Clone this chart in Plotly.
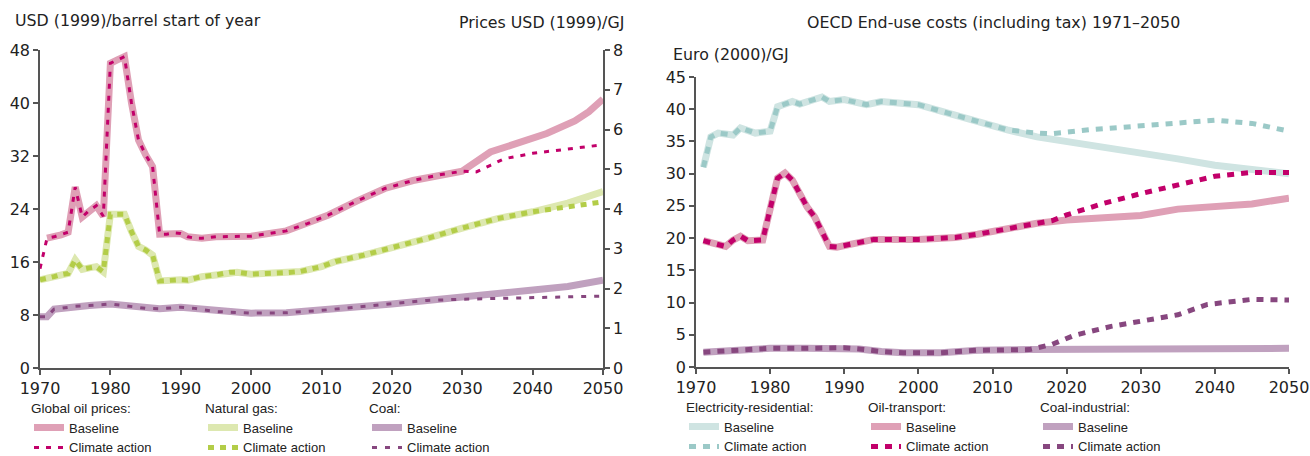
import plotly.graph_objects as go

# ---- left chart: world energy prices ----
oil_years = [1971, 1972, 1973, 1974, 1975, 1976, 1977, 1978, 1979, 1980, 1981, 1982, 1983, 1984, 1985, 1986,
             1987, 1988, 1989, 1990, 1991, 1992, 1993, 1995, 2000, 2005, 2008, 2011, 2015, 2019, 2023, 2027,
             2030, 2034, 2038, 2042, 2046, 2048, 2050]
oil_base = [19.6, 19.8, 20.1, 20.5, 27.3, 22.8, 23.8, 24.5, 22.9, 46.0, 46.5, 47.0, 40.0, 34.4, 32.2, 30.4,
            20.2, 20.2, 20.4, 20.3, 19.8, 19.6, 19.6, 19.8, 19.9, 20.7, 21.8, 23.1, 25.2, 27.1, 28.3, 29.2,
            29.7, 32.6, 34.0, 35.4, 37.3, 38.7, 40.6]
oil_clim_years = [1970] + oil_years[:33] + [2032, 2034, 2036, 2040, 2045, 2050]
oil_clim = [15.0] + oil_base[:33] + [29.6, 30.6, 31.6, 32.4, 33.0, 33.7]

gas_years = [1970, 1971, 1972, 1973, 1974, 1975, 1976, 1977, 1978, 1979, 1980, 1981, 1982, 1983, 1984, 1985,
             1986, 1987, 1988, 1990, 1991, 1993, 1995, 1997, 1998, 2000, 2005, 2007, 2010, 2012, 2016, 2020,
             2025, 2030, 2035, 2040, 2045, 2050]
gas_base = [2.22, 2.25, 2.30, 2.35, 2.38, 2.72, 2.48, 2.52, 2.55, 2.42, 3.87, 3.87, 3.87, 3.43, 3.06, 2.97,
            2.84, 2.19, 2.21, 2.22, 2.21, 2.30, 2.34, 2.41, 2.41, 2.36, 2.40, 2.43, 2.55, 2.68, 2.84, 3.02,
            3.26, 3.52, 3.76, 3.93, 4.15, 4.44]
gas_clim = gas_base[:-2] + [4.06, 4.18]

coal_years = [1970, 1971, 1972, 1975, 1977, 1980, 1982, 1985, 1987, 1990, 1992, 1995, 2000, 2005, 2010, 2015,
              2020, 2025, 2030, 2035, 2040, 2045, 2050]
coal_base = [1.29, 1.29, 1.48, 1.55, 1.57, 1.61, 1.57, 1.50, 1.49, 1.53, 1.50, 1.42, 1.38, 1.39, 1.45, 1.53,
             1.61, 1.70, 1.78, 1.86, 1.95, 2.05, 2.21]
coal_clim = coal_base[:-5] + [1.73, 1.75, 1.77, 1.79, 1.81]

# ---- right chart: OECD end-use costs ----
elec_years = [1971, 1972, 1973, 1975, 1976, 1978, 1980, 1981, 1983, 1984, 1987, 1988, 1990, 1993, 1995, 2000,
              2004, 2008, 2012, 2016, 2020, 2025, 2030, 2035, 2040, 2045, 2050]
elec_base = [31.0, 35.7, 36.3, 36.0, 37.1, 36.3, 36.6, 40.4, 41.2, 40.8, 41.9, 41.2, 41.5, 40.7, 41.2, 40.7,
             39.4, 38.0, 36.8, 35.7, 35.0, 34.2, 33.1, 32.3, 31.3, 30.6, 30.0]
elec_clim_years = elec_years[:19] + [2016, 2018, 2023, 2030, 2036, 2040, 2045, 2050]
elec_clim = elec_base[:19] + [36.3, 36.2, 36.8, 37.4, 38.1, 38.3, 37.8, 36.6]

oilt_years = [1971, 1974, 1975, 1976, 1977, 1979, 1981, 1982, 1983, 1984, 1985, 1986, 1988, 1989, 1992, 1994,
              2000, 2005, 2008, 2012, 2016, 2020, 2025, 2030, 2035, 2040, 2045, 2050]
oilt_base = [19.6, 18.7, 19.7, 20.3, 19.6, 19.7, 29.3, 30.1, 29.0, 26.7, 24.8, 23.3, 18.7, 18.6, 19.4, 19.8,
             19.8, 20.1, 20.6, 21.5, 22.3, 22.8, 23.2, 23.5, 24.5, 25.0, 25.3, 26.2]
oilt_clim_years = oilt_years[:21] + [2018, 2020, 2025, 2030, 2035, 2040, 2045, 2050]
oilt_clim = oilt_base[:21] + [22.7, 23.6, 25.4, 26.9, 28.2, 29.6, 30.2, 30.2]

coali_years = [1971, 1975, 1980, 1985, 1990, 1992, 1995, 1998, 2003, 2008, 2015, 2020, 2030, 2040, 2050]
coali_base = [2.3, 2.6, 2.9, 2.9, 3.0, 2.8, 2.4, 2.2, 2.2, 2.6, 2.7, 2.7, 2.7, 2.8, 2.9]
coali_clim_years = coali_years[:11] + [2018, 2021, 2026, 2030, 2035, 2039, 2042, 2045, 2050]
coali_clim = coali_base[:11] + [3.5, 4.9, 6.3, 7.1, 8.1, 9.7, 10.1, 10.5, 10.4]

W, H = 1310, 456
TXT = "#222222"
AX = "#555555"
BASE_W = 7

fig = go.Figure()


def pair(xb, yb, xc, yc, cb, cc, xa, ya, leg, cw, dash):
    fig.add_trace(go.Scatter(x=xb, y=yb, mode="lines", name="Baseline", xaxis=xa, yaxis=ya, legend=leg,
                             line=dict(color=cb, width=BASE_W)))
    fig.add_trace(go.Scatter(x=xc, y=yc, mode="lines", name="Climate action", xaxis=xa, yaxis=ya, legend=leg,
                             line=dict(color=cc, width=cw, dash=dash)))


pair(oil_years, oil_base, oil_clim_years, oil_clim, "#dfa0b6", "#c2006a", "x", "y", "legend", 3, "5px,7px")
pair(gas_years, gas_base, gas_years, gas_clim, "#dde8b0", "#b3cd48", "x", "y2", "legend2", 5, "6px,6px")
pair(coal_years, coal_base, coal_years, coal_clim, "#c0a1bf", "#87477f", "x", "y2", "legend3", 3, "5px,8px")

pair(elec_years, elec_base, elec_clim_years, elec_clim, "#cfe4e2", "#9bc9c7", "x2", "y3", "legend4", 5, "7px,7px")
pair(oilt_years, oilt_base, oilt_clim_years, oilt_clim, "#dfa0b6", "#c2006a", "x2", "y3", "legend5", 5, "7px,7px")
pair(coali_years, coali_base, coali_clim_years, coali_clim, "#c0a1bf", "#87477f", "x2", "y3", "legend6", 5, "7px,7px")

tickfont = dict(family="DejaVu Sans", size=16, color=TXT)
axis_common = dict(showline=True, linecolor=AX, linewidth=1.5, showgrid=False, zeroline=False,
                   ticks="outside", ticklen=5, tickwidth=1.5, tickcolor=AX, tickfont=tickfont, fixedrange=True)

left_dom = [40 / W, 603 / W]
right_dom = [696 / W, 1289 / W]

fig.update_layout(
    width=W, height=H, margin=dict(l=0, r=0, t=0, b=0, autoexpand=False),
    paper_bgcolor="white", plot_bgcolor="white",
    xaxis=dict(domain=left_dom, range=[1970, 2050], dtick=10, anchor="y", **axis_common),
    yaxis=dict(domain=[1 - 368 / H, 1 - 50 / H], range=[0, 48], dtick=8, anchor="x", **axis_common),
    yaxis2=dict(range=[0, 8], dtick=1, overlaying="y", side="right", anchor="x", **axis_common),
    yaxis4=dict(range=[0, 8], dtick=1, overlaying="y", side="right", anchor="x", showline=False,
                showgrid=False, zeroline=False, ticks="inside", ticklen=5, tickwidth=1.5, tickcolor=AX,
                showticklabels=False),
    xaxis2=dict(domain=right_dom, range=[1970, 2050], dtick=10, anchor="y3", **axis_common),
    yaxis3=dict(domain=[1 - 367 / H, 1 - 77 / H], range=[0, 45], dtick=5, anchor="x2", **axis_common),
    hovermode=False,
)

ann_font = dict(family="DejaVu Sans", size=15.8, color=TXT)
titles = [
    ("USD (1999)/barrel start of year", 13, 20, "left"),
    ("Prices USD (1999)/GJ", 626, 22, "right"),
    ("OECD End-use costs (including tax) 1971\u20132050", 994, 22, "center"),
    ("Euro (2000)/GJ", 671, 54, "left"),
]
for text, px, py, anchor in titles:
    fig.add_annotation(text=text, x=px / W, y=1 - py / H, xref="paper", yref="paper", xanchor=anchor,
                       yanchor="middle", showarrow=False, font=ann_font)

leg_font = dict(family="Liberation Sans", size=13, color=TXT)
leg_title_font = dict(family="Liberation Sans", size=13.5, color=TXT)
legends = [
    ("legend", "Global oil prices:", 29, 395),
    ("legend2", "Natural gas:", 203, 395),
    ("legend3", "Coal:", 367, 395),
    ("legend4", "Electricity-residential:", 684, 394),
    ("legend5", "Oil-transport:", 866, 394),
    ("legend6", "Coal-industrial:", 1038, 394),
]
for key, title, px, py in legends:
    fig.update_layout({key: dict(title=dict(text=title, font=leg_title_font, side="top"), font=leg_font,
                                 x=px / W, y=1 - py / H, xanchor="left", yanchor="top",
                                 bgcolor="rgba(0,0,0,0)", itemwidth=30, tracegroupgap=0)})

# drop the default 8px page margin so the figure fills the window
fig.write_html("out.html", config={"displayModeBar": False},
               post_script="document.body.style.margin='0';document.body.style.overflow='hidden';")
